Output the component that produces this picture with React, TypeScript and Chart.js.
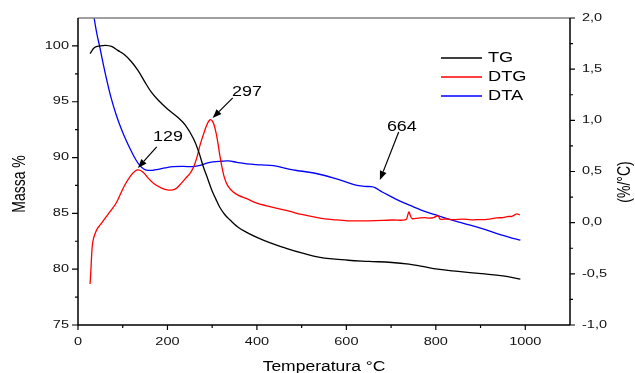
import { useEffect, useRef } from "react";
import { Chart, registerables } from "chart.js";

Chart.register(...registerables);

// ---- Data ----
const tgTemp = [27, 37, 50, 62, 75, 89, 104, 119, 134, 149, 164, 179, 200, 223, 240, 258, 270, 280, 290, 299, 308, 317, 328, 340, 358, 377, 400, 430, 459, 500, 541, 604, 650, 702, 740, 770, 804, 850, 902, 950, 989];
const tgMass = [99.3, 99.85, 100.0, 100.05, 99.95, 99.6, 99.2, 98.6, 97.8, 96.8, 95.85, 95.15, 94.35, 93.6, 92.9, 91.7, 90.5, 89.2, 88.1, 87.1, 86.3, 85.55, 84.9, 84.4, 83.75, 83.3, 82.85, 82.35, 81.95, 81.45, 81.05, 80.8, 80.7, 80.6, 80.45, 80.25, 80.0, 79.8, 79.6, 79.4, 79.1];

const dtgTemp = [27, 29, 31, 33, 37, 43, 50, 60, 72, 85, 94, 105, 118, 128, 135, 145, 156, 170, 186, 200, 216, 228, 240, 250, 258, 266, 273, 281, 288, 295, 301, 307, 312, 317, 322, 328, 335, 347, 360, 377, 400, 422, 450, 474, 500, 541, 570, 604, 650, 702, 733, 737, 740, 743, 747, 760, 775, 785, 795, 805, 810, 824, 840, 860, 880, 898, 915, 936, 950, 960, 970, 981, 988];
const dtgValue = [-0.6, -0.45, -0.28, -0.19, -0.12, -0.06, -0.02, 0.04, 0.11, 0.19, 0.27, 0.37, 0.46, 0.505, 0.515, 0.495, 0.44, 0.38, 0.34, 0.32, 0.325, 0.37, 0.43, 0.48, 0.54, 0.64, 0.76, 0.87, 0.955, 1.005, 0.99, 0.91, 0.8, 0.66, 0.54, 0.43, 0.36, 0.3, 0.265, 0.235, 0.19, 0.165, 0.135, 0.11, 0.08, 0.045, 0.03, 0.018, 0.018, 0.026, 0.03, 0.07, 0.105, 0.07, 0.04, 0.045, 0.05, 0.045, 0.05, 0.066, 0.035, 0.036, 0.03, 0.035, 0.028, 0.03, 0.032, 0.046, 0.05, 0.06, 0.062, 0.085, 0.075];

const dtaTemp = [30, 36, 42, 49, 56, 64, 74, 85, 96, 108, 119, 130, 138, 147, 156, 168, 179, 195, 213, 235, 258, 273, 290, 302, 320, 336, 355, 377, 410, 437, 474, 496, 530, 574, 619, 640, 656, 664, 680, 700, 720, 750, 775, 800, 827, 860, 902, 946, 970, 989];
const dtaValue = [2.15, 2.0, 1.85, 1.71, 1.56, 1.4, 1.22, 1.06, 0.925, 0.8, 0.7, 0.61, 0.56, 0.525, 0.512, 0.512, 0.52, 0.535, 0.547, 0.55, 0.548, 0.56, 0.585, 0.594, 0.6, 0.603, 0.59, 0.574, 0.565, 0.557, 0.52, 0.505, 0.483, 0.434, 0.37, 0.355, 0.352, 0.342, 0.3, 0.255, 0.21, 0.155, 0.11, 0.075, 0.036, -0.005, -0.055, -0.12, -0.15, -0.17];

const seriesLabels = ["TG", "DTG", "DTA"];
const seriesColors = ["#000000", "#ff0000", "#0000ff"];

const xTickValues = [0, 200, 400, 600, 800, 1000];
const xMinorValues = [100, 300, 500, 700, 900];
const leftTickValues = [75, 80, 85, 90, 95, 100];
const leftMinorValues = [77.5, 82.5, 87.5, 92.5, 97.5];
const rightTickValues = [-1, -0.5, 0, 0.5, 1, 1.5, 2];
const rightMinorValues = [-0.75, -0.25, 0.25, 0.75, 1.25, 1.75];

const xTitle = "Temperatura °C";
const leftTitle = "Massa %";
const rightTitle = "(%/°C)";

// Peak annotations, in data coordinates (x: temperature, y: right axis)
const peakLabels = ["129", "297", "664"];
const peakTips = [[134, 0.535], [301, 1.023], [675, 0.417]];
const peakTails = [[176, 0.74], [346, 1.219], [717, 0.886]];
const peakTextPos = [[201, 0.838], [378, 1.278], [724, 0.935]];

const FONT = "'Liberation Sans', Arial, sans-serif";

function zip(xs: number[], ys: number[]) {
  return xs.map((x, i) => ({ x, y: ys[i] }));
}

function stretchedText(
  ctx: CanvasRenderingContext2D,
  text: string,
  x: number,
  y: number,
  align: CanvasTextAlign,
  baseline: CanvasTextBaseline,
  size: number,
  sx: number,
  color = "#111"
) {
  ctx.save();
  ctx.translate(x, y);
  ctx.scale(sx, 1);
  ctx.font = `${size}px ${FONT}`;
  ctx.fillStyle = color;
  ctx.textAlign = align;
  ctx.textBaseline = baseline;
  ctx.fillText(text, 0, 0);
  ctx.restore();
}

function rotatedText(
  ctx: CanvasRenderingContext2D,
  text: string,
  x: number,
  y: number,
  size: number,
  sx: number
) {
  ctx.save();
  ctx.translate(x, y);
  ctx.scale(sx, 1);
  ctx.rotate(-Math.PI / 2);
  ctx.font = `${size}px ${FONT}`;
  ctx.fillStyle = "#000";
  ctx.textAlign = "center";
  ctx.textBaseline = "alphabetic";
  ctx.fillText(text, 0, 0);
  ctx.restore();
}

const decorPlugin = {
  id: "decor",
  afterDraw(chart: any) {
    const ctx: CanvasRenderingContext2D = chart.ctx;
    const { left, right, top, bottom } = chart.chartArea;
    const xs = chart.scales.x;
    const ys = chart.scales.y;
    const y1 = chart.scales.y1;

    ctx.save();
    // top frame (gray)
    ctx.strokeStyle = "#7f7f7f";
    ctx.lineWidth = 1.5;
    ctx.beginPath();
    ctx.moveTo(left, top);
    ctx.lineTo(right, top);
    ctx.stroke();

    // axes (black)
    ctx.strokeStyle = "#000";
    ctx.lineWidth = 1.5;
    ctx.beginPath();
    ctx.moveTo(left, top);
    ctx.lineTo(left, bottom);
    ctx.lineTo(right, bottom);
    ctx.moveTo(right, top);
    ctx.lineTo(right, bottom);
    ctx.stroke();

    // ticks
    ctx.lineWidth = 1.2;
    ctx.beginPath();
    xTickValues.forEach((v) => {
      const px = xs.getPixelForValue(v);
      ctx.moveTo(px, bottom);
      ctx.lineTo(px, bottom + 5);
    });
    xMinorValues.forEach((v) => {
      const px = xs.getPixelForValue(v);
      ctx.moveTo(px, bottom);
      ctx.lineTo(px, bottom + 3);
    });
    leftTickValues.forEach((v) => {
      const py = ys.getPixelForValue(v);
      ctx.moveTo(left, py);
      ctx.lineTo(left - 6, py);
    });
    leftMinorValues.forEach((v) => {
      const py = ys.getPixelForValue(v);
      ctx.moveTo(left, py);
      ctx.lineTo(left - 3, py);
    });
    rightTickValues.forEach((v) => {
      const py = y1.getPixelForValue(v);
      ctx.moveTo(right, py);
      ctx.lineTo(right + 5, py);
    });
    rightMinorValues.forEach((v) => {
      const py = y1.getPixelForValue(v);
      ctx.moveTo(right, py);
      ctx.lineTo(right + 3, py);
    });
    ctx.stroke();

    // tick labels
    xTickValues.forEach((v) => {
      stretchedText(ctx, String(v), xs.getPixelForValue(v), bottom + 17, "center", "middle", 10, 1.45);
    });
    leftTickValues.forEach((v) => {
      stretchedText(ctx, String(v), left - 9, ys.getPixelForValue(v), "right", "middle", 10, 1.45);
    });
    rightTickValues.forEach((v) => {
      stretchedText(ctx, v.toFixed(1).replace(".", ","), right + 12, y1.getPixelForValue(v), "left", "middle", 10, 1.45);
    });

    // axis titles
    stretchedText(ctx, xTitle, (left + right) / 2, 371, "center", "alphabetic", 14, 1.25, "#000");
    rotatedText(ctx, leftTitle, 25, 184, 14, 1.3);
    rotatedText(ctx, rightTitle, 630, 182, 14, 1.3);

    // legend
    const legendY = [58, 77, 96];
    seriesLabels.forEach((lab, i) => {
      ctx.strokeStyle = seriesColors[i];
      ctx.lineWidth = 1.3;
      ctx.beginPath();
      ctx.moveTo(441, legendY[i]);
      ctx.lineTo(482, legendY[i]);
      ctx.stroke();
      stretchedText(ctx, lab, 488, legendY[i], "left", "middle", 14, 1.3, "#000");
    });

    // peak annotations
    peakLabels.forEach((lab, i) => {
      const tx = xs.getPixelForValue(peakTips[i][0]);
      const ty = y1.getPixelForValue(peakTips[i][1]);
      const sx = xs.getPixelForValue(peakTails[i][0]);
      const sy = y1.getPixelForValue(peakTails[i][1]);
      const ang = Math.atan2(ty - sy, tx - sx);
      const headLen = 9;
      const headW = 3.5;
      const bx = tx - headLen * Math.cos(ang);
      const by = ty - headLen * Math.sin(ang);
      ctx.strokeStyle = "#000";
      ctx.fillStyle = "#000";
      ctx.lineWidth = 1.2;
      ctx.beginPath();
      ctx.moveTo(sx, sy);
      ctx.lineTo(bx, by);
      ctx.stroke();
      ctx.beginPath();
      ctx.moveTo(tx, ty);
      ctx.lineTo(bx + headW * Math.sin(ang), by - headW * Math.cos(ang));
      ctx.lineTo(bx - headW * Math.sin(ang), by + headW * Math.cos(ang));
      ctx.closePath();
      ctx.fill();
      const px = xs.getPixelForValue(peakTextPos[i][0]);
      const py = y1.getPixelForValue(peakTextPos[i][1]);
      stretchedText(ctx, lab, px, py, "center", "middle", 14, 1.28, "#000");
    });
    ctx.restore();
  },
};

export default function App() {
  const canvasRef = useRef<HTMLCanvasElement | null>(null);

  useEffect(() => {
    const canvas = canvasRef.current;
    if (!canvas) return;
    const lineDs = (label: string, data: any[], color: string, axis: string) => ({
      label,
      data,
      borderColor: color,
      backgroundColor: color,
      borderWidth: 1.3,
      pointRadius: 0,
      fill: false,
      tension: 0.4,
      yAxisID: axis,
    });
    const chart = new Chart(canvas, {
      type: "line",
      data: {
        datasets: [
          lineDs(seriesLabels[0], zip(tgTemp, tgMass), seriesColors[0], "y"),
          lineDs(seriesLabels[1], zip(dtgTemp, dtgValue), seriesColors[1], "y1"),
          lineDs(seriesLabels[2], zip(dtaTemp, dtaValue), seriesColors[2], "y1"),
        ],
      },
      options: {
        responsive: false,
        devicePixelRatio: 1,
        animation: false,
        layout: { padding: { top: 18, left: 0, right: 0, bottom: 0 } },
        plugins: {
          legend: { display: false },
          tooltip: { enabled: false },
        },
        scales: {
          x: {
            type: "linear",
            min: 0,
            max: 1100,
            grid: { display: false, drawTicks: false },
            border: { display: false },
            ticks: { display: false, stepSize: 200 },
            afterFit: (s: any) => {
              s.height = 48;
            },
          },
          y: {
            type: "linear",
            position: "left",
            min: 75,
            max: 102.5,
            grid: { display: false, drawTicks: false },
            border: { display: false },
            ticks: { display: false, stepSize: 5 },
            afterFit: (s: any) => {
              s.width = 78;
            },
          },
          y1: {
            type: "linear",
            position: "right",
            min: -1,
            max: 2,
            grid: { display: false, drawTicks: false },
            border: { display: false },
            ticks: { display: false, stepSize: 0.5 },
            afterFit: (s: any) => {
              s.width = 65;
            },
          },
        },
      },
      plugins: [decorPlugin],
    });
    return () => chart.destroy();
  }, []);

  return (
    <div style={{ position: "absolute", left: 0, top: 0, width: 635, height: 373, background: "#fff" }}>
      <canvas ref={canvasRef} width={635} height={373} style={{ display: "block" }} />
    </div>
  );
}
